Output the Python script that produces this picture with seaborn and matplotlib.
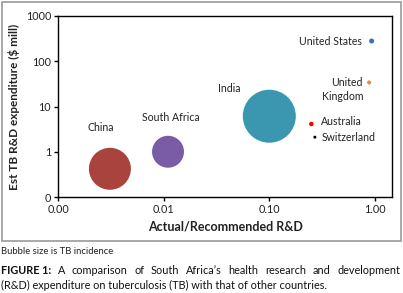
import matplotlib
matplotlib.use("Agg")
import matplotlib.pyplot as plt
from matplotlib.patches import Rectangle
from matplotlib.ticker import FixedLocator, FuncFormatter, NullLocator
import seaborn as sns
import pandas as pd

# ---- data ----
countries = ["China", "South Africa", "India", "United States",
             "United Kingdom", "Australia", "Switzerland"]
actual_over_recommended = [0.0031, 0.011, 0.10, 0.93, 0.88, 0.25, 0.27]
tb_rd_expenditure = [0.42, 1.0, 6.1, 280, 34, 4.1, 2.1]
tb_incidence = [1380, 800, 2200, 20, 13, 16, 7]   # bubble size
colors = ["#A8433D", "#7A5BA5", "#3B97B0", "#3F6EB2",
          "#EE8635", "#FF0000", "#000000"]
labels = ["China", "South Africa", "India", "United States",
          "United\nKingdom", "Australia", "Switzerland"]
x_ticks = [0.001, 0.01, 0.1, 1.0]
y_ticks = [0.1, 1, 10, 100, 1000]

df = pd.DataFrame({"country": countries,
                   "ratio": actual_over_recommended,
                   "spend": tb_rd_expenditure,
                   "incidence": tb_incidence})

sns.set_style("white")
plt.rcParams["font.family"] = ["Lato", "DejaVu Sans"]

W, H = 403, 293
fig = plt.figure(figsize=(W / 100, H / 100), dpi=100)
L, R, T, B = 58, 392, 16, 197
ax = fig.add_axes([L / W, 1 - B / H, (R - L) / W, (B - T) / H])

sns.scatterplot(data=df, x="ratio", y="spend", hue="country",
                palette=dict(zip(countries, colors)),
                size="incidence", sizes=(0, 1456), size_norm=(0, 2200),
                linewidth=0, alpha=1, legend=False, ax=ax)

ax.set_xscale("log")
ax.set_yscale("log")
ax.set_xlim(0.001, 1.45)
ax.set_ylim(0.1, 1000)
ax.xaxis.set_major_locator(FixedLocator(x_ticks))
ax.xaxis.set_minor_locator(NullLocator())
ax.yaxis.set_major_locator(FixedLocator(y_ticks))
ax.yaxis.set_minor_locator(NullLocator())
ax.xaxis.set_major_formatter(FuncFormatter(lambda v, p: f"{v:.2f}"))
ax.yaxis.set_major_formatter(FuncFormatter(lambda v, p: f"{v:.0f}"))
ax.tick_params(axis="both", which="major", direction="out", length=3,
               width=1, color="black", labelsize=7.8, labelcolor="#222222",
               pad=2, bottom=True, left=True)
for s in ax.spines.values():
    s.set_color("black")
    s.set_linewidth(1.0)

ax.set_xlabel("Actual/Recommended R&D", fontsize=9, fontweight="bold",
              color="#222222", labelpad=4)
ax.set_ylabel("Est TB R&D expenditure ($ mill)", fontsize=8.5,
              fontweight="bold", color="#222222", labelpad=4)

# label offsets in points (dx, dy), alignment
offsets = {
    "China": (-6.5, 30, "center", "center"),
    "South Africa": (2, 24.5, "center", "center"),
    "India": (-29, 20, "center", "center"),
    "United States": (-7, 0, "right", "center"),
    "United Kingdom": (-4.3, 3.8, "right", "top"),
    "Australia": (7.2, 1.5, "left", "center"),
    "Switzerland": (4.8, 0, "left", "center"),
}
for c, lab, xv, yv in zip(countries, labels, actual_over_recommended,
                          tb_rd_expenditure):
    dx, dy, ha, va = offsets[c]
    ax.annotate(lab, xy=(xv, yv), xytext=(dx, dy),
                textcoords="offset points", ha=ha, va=va,
                fontsize=7.6, color="#222222", linespacing=1.35,
                multialignment="right")

# border around chart
fig.patches.append(Rectangle((1.5 / W, 1 - 241 / H), 399.5 / W, 239.5 / H,
                             transform=fig.transFigure, fill=False,
                             edgecolor="#9a9a9a", linewidth=1.2))

fig.text(1 / W, 1 - 252 / H, "Bubble size is TB incidence", fontsize=6.8,
         color="#222222", ha="left", va="center")

# justified first caption line: bold lead + words spread to right edge
cap_fs = 7.8
renderer = fig.canvas.get_renderer()
y1 = 1 - 271 / H
lead = fig.text(1 / W, y1, "FIGURE 1:", fontsize=cap_fs, fontweight="bold",
                color="#111111", ha="left", va="center")
words = "A comparison of South Africa\u2019s health research and development".split()
word_texts = [fig.text(0, y1, w, fontsize=cap_fs, color="#111111",
                       ha="left", va="center") for w in words]
lead_w = lead.get_window_extent(renderer).width
ws = [t.get_window_extent(renderer).width for t in word_texts]
start = 1 + lead_w
right_edge = 400.0
gap = (right_edge - start - sum(ws)) / len(words)
xpos = start + gap
for t, w in zip(word_texts, ws):
    t.set_x(xpos / W)
    xpos += w + gap

fig.text(1 / W, 1 - 285 / H,
         "(R&D) expenditure on tuberculosis (TB) with that of other countries.",
         fontsize=cap_fs, color="#111111", ha="left", va="center")

fig.savefig("out.png", dpi=100)
